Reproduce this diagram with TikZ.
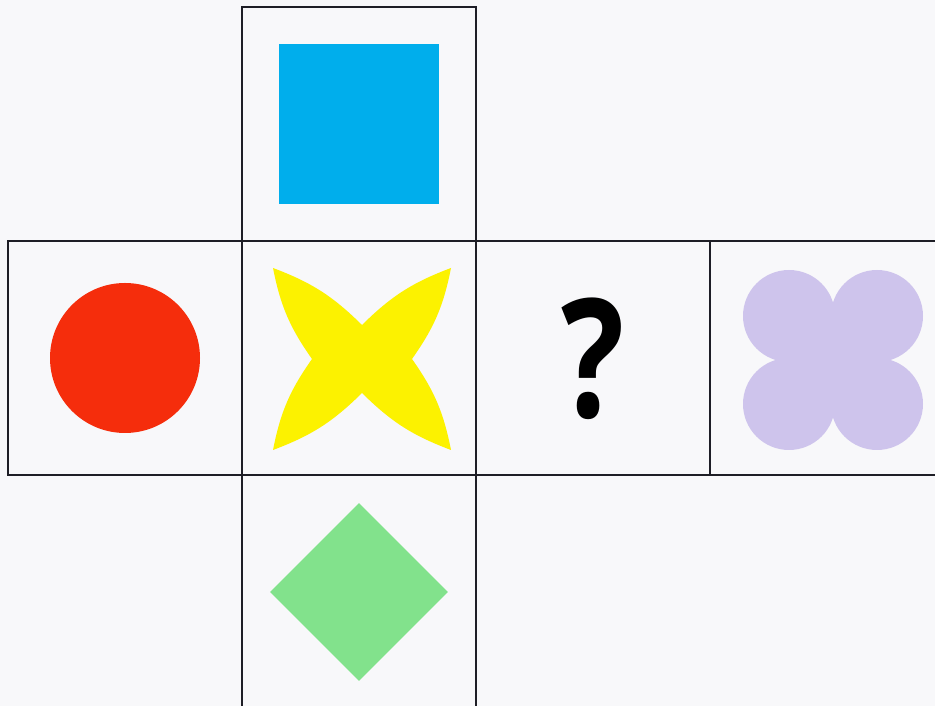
\documentclass[tikz,border=0pt]{standalone}
\usepackage{fontspec}
\newfontfamily\qfont{Open Sans}
\usetikzlibrary{positioning,shapes.geometric}
\definecolor{paper}{RGB}{248,248,250}
\definecolor{gridline}{RGB}{30,30,38}
\definecolor{sqblue}{RGB}{0,174,236}
\definecolor{dotred}{RGB}{245,45,12}
\definecolor{staryellow}{RGB}{252,242,0}
\definecolor{gemgreen}{RGB}{130,226,140}
\definecolor{lilac}{RGB}{206,196,236}
\tikzset{
  cell/.style={draw=gridline, line width=0.9pt, minimum size=4.68cm, inner sep=0pt, outer sep=0pt},
  petal/.style={bend left=12},
}

\begin{document}
\begin{tikzpicture}
    \useasboundingbox (0,0) rectangle (18.7,14.12);
    \clip (0,0) rectangle (18.7,14.12);
    \fill[paper] (0,0) rectangle (18.7,14.12);

    \node[cell] (centre) at (7.18,6.96) {};
    \node[cell, above=0pt of centre] (top) {};
    \node[cell, below=0pt of centre] (bottom) {};
    \node[cell, left=0pt of centre] (left) {};
    \node[cell, right=0pt of centre] (quest) {};
    \node[cell, right=0pt of quest] (right) {};

    \node[fill=sqblue, minimum size=3.2cm, inner sep=0pt] (square) at (top) {};
    \node[circle, fill=dotred, minimum size=3cm, inner sep=0pt] (dot) at (left) {};
    \node[diamond, fill=gemgreen, minimum size=3.56cm, inner sep=0pt] (gem) at (bottom) {};

    \begin{scope}[shift={(7.24,6.94)}]
        \fill[staryellow] (-1.78,1.82) to[petal] (0,0.68) to[petal] (1.78,1.82)
            to[petal] (1,0) to[petal] (1.78,-1.82) to[petal] (0,-0.68)
            to[petal] (-1.78,-1.82) to[petal] (-1,0) to[petal] (-1.78,1.82) -- cycle;
    \end{scope}

    \begin{scope}[shift={(16.66,6.92)}]
        \fill[lilac] (-0.88,-0.88) rectangle (0.88,0.88);
        \foreach \sx in {-1,1}
            \foreach \sy in {-1,1}
                \fill[lilac] (0.88*\sx,0.88*\sy) circle (0.92);
    \end{scope}

    \node[font=\qfont\bfseries\fontsize{94}{94}\selectfont, inner sep=0pt, xscale=0.8] (mark) at (11.86,6.94) {?};
\end{tikzpicture}
\end{document}
